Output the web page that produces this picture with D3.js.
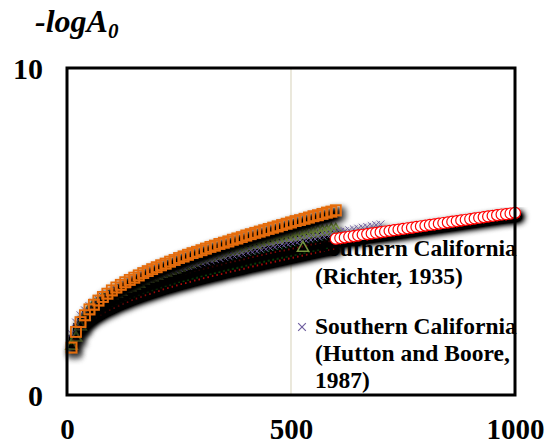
<!DOCTYPE html>
<html><head><meta charset="utf-8">
<script src="https://cdn.jsdelivr.net/npm/d3@7"></script>
<style>body{margin:0;background:#fff;}svg{display:block;}</style>
</head><body><div id="chart"></div>
<script>
// distances (km) at 10 km steps
const dist600 = d3.range(10, 601, 10);
const dist700 = d3.range(10, 701, 10);
const distRed = d3.range(600, 1001, 10);

const orangeVals = [1.45,1.93,2.23,2.44,2.62,2.76,2.89,3.00,3.10,3.20,3.29,3.37,3.45,3.52,3.59,3.66,3.73,3.79,3.85,3.91,3.97,4.02,4.08,4.13,4.19,4.24,4.29,4.34,4.38,4.43,4.48,4.53,4.57,4.62,4.66,4.70,4.75,4.79,4.83,4.88,4.92,4.96,5.00,5.04,5.08,5.12,5.16,5.20,5.24,5.28,5.32,5.35,5.39,5.43,5.47,5.50,5.54,5.58,5.61,5.65];
const richterVals = [1.5,1.75,2.1,2.4,2.6,2.75,2.85,2.95,3.0,3.05,3.1,3.15,3.25,3.3,3.35,3.4,3.5,3.55,3.6,3.65,3.7,3.75,3.8,3.85,3.9,3.95,4.0,4.05,4.1,4.15,4.2,4.2,4.25,4.3,4.35,4.4,4.4,4.45,4.5,4.55,4.6,4.6,4.65,4.7,4.7,4.75,4.75,4.8,4.8,4.85,4.85,4.9,4.9,4.95,4.95,5.0,5.0,5.0,5.05,5.05];
const huttonVals = [1.87,2.22,2.44,2.59,2.72,2.83,2.92,3.00,3.08,3.15,3.22,3.28,3.33,3.39,3.44,3.49,3.54,3.58,3.63,3.67,3.72,3.76,3.80,3.84,3.88,3.91,3.95,3.99,4.02,4.06,4.09,4.13,4.16,4.19,4.23,4.26,4.29,4.32,4.35,4.39,4.42,4.45,4.48,4.51,4.54,4.57,4.60,4.62,4.65,4.68,4.71,4.74,4.77,4.80,4.82,4.85,4.88,4.90,4.93,4.96,4.99,5.01,5.04,5.07,5.09,5.12,5.14,5.17,5.20,5.22];
const upperVals = [1.72,2.07,2.29,2.44,2.57,2.68,2.77,2.85,2.93,3.00,3.07,3.13,3.18,3.24,3.29,3.34,3.39,3.43,3.48,3.52,3.57,3.61,3.65,3.69,3.73,3.76,3.80,3.84,3.87,3.91,3.94,3.98,4.01,4.04,4.08,4.11,4.14,4.17,4.20,4.24,4.27,4.30,4.33,4.36,4.39,4.42,4.45,4.47,4.50,4.53,4.56,4.59,4.62,4.65,4.67,4.70,4.73,4.75,4.78,4.81];
const lowerVals = [1.55,1.85,2.05,2.2,2.32,2.42,2.5,2.58,2.65,2.71,2.78,2.84,2.89,2.95,3.0,3.05,3.1,3.14,3.19,3.23,3.28,3.32,3.36,3.4,3.44,3.47,3.51,3.55,3.58,3.62,3.65,3.69,3.72,3.75,3.79,3.82,3.85,3.88,3.91,3.95,3.98,4.01,4.04,4.07,4.1,4.13,4.16,4.19,4.22,4.25,4.28,4.31,4.34,4.37,4.4,4.43,4.46,4.48,4.51,4.54];
const redVals = [4.78,4.80,4.82,4.84,4.86,4.88,4.90,4.92,4.94,4.96,4.98,5.00,5.02,5.04,5.06,5.08,5.10,5.12,5.14,5.16,5.18,5.20,5.22,5.24,5.26,5.28,5.30,5.32,5.34,5.36,5.38,5.40,5.42,5.44,5.46,5.48,5.50,5.52,5.53,5.55,5.57];

const xTicks = [0, 500, 1000];
const yTicks = [0, 10];
const legendRichter = ["Southern California", "(Richter, 1935)"];
const legendHutton = ["Southern California", "(Hutton and Boore,", "1987)"];

const W = 549, H = 446;
const FONT = "'Liberation Serif','Times New Roman',serif";
const svg = d3.select("#chart").append("svg").attr("width", W).attr("height", H);
const x = d3.scaleLinear().domain([0, 1000]).range([67, 515]);
const y = d3.scaleLinear().domain([0, 10]).range([395, 68]);

const defs = svg.append("defs");
const f = defs.append("filter").attr("id", "sh").attr("x", "-10%").attr("y", "-10%").attr("width", "130%").attr("height", "140%");
f.append("feGaussianBlur").attr("in", "SourceAlpha").attr("stdDeviation", 3);
f.append("feOffset").attr("dx", 3).attr("dy", 4).attr("result", "o");
f.append("feComponentTransfer").append("feFuncA").attr("type", "linear").attr("slope", 1.6);
const m = f.append("feMerge");
m.append("feMergeNode");
m.append("feMergeNode").attr("in", "SourceGraphic");

// gridline at 500
svg.append("line").attr("x1", x(500)).attr("x2", x(500)).attr("y1", y(10)).attr("y2", y(0))
  .attr("stroke", "#DDD9C4").attr("stroke-width", 1.2);

function pts(ds, vs) { return ds.map((d, i) => ({d: d, v: vs[i]})); }

const tri = d3.symbol().type(d3.symbolTriangle).size(55);
const cross = d3.symbol().type(d3.symbolX).size(40);

// black bands
function band(vals) {
  const g = svg.append("g").attr("filter", "url(#sh)");
  const p = pts(dist600, vals);
  g.selectAll("rect.b").data(p).join("rect").attr("x", d => x(d.d) - 3).attr("y", d => y(d.v) - 4).attr("width", 6).attr("height", 8).attr("fill", "#000");
  g.selectAll("rect.g").data(p).join("rect").attr("class","g").attr("x", d => x(d.d) - 1).attr("y", d => y(d.v) - 2).attr("width", 2).attr("height", 2.5).attr("fill", "#22EE22");
  g.selectAll("rect.r").data(p).join("rect").attr("class","r").attr("x", d => x(d.d) + 1.5).attr("y", d => y(d.v) + 0.5).attr("width", 1.5).attr("height", 2).attr("fill", "#FF1010");
}
band(lowerVals);
band(upperVals);

// olive triangles (Richter)
svg.append("g").attr("filter", "url(#sh)").selectAll("path").data(pts(dist600, richterVals)).join("path")
  .attr("d", tri).attr("transform", d => `translate(${x(d.d)},${y(d.v)})`)
  .attr("fill", "none").attr("stroke", "#77933C").attr("stroke-width", 1.6);

// purple crosses (Hutton & Boore)
svg.append("g").attr("filter", "url(#sh)").selectAll("path").data(pts(dist700, huttonVals)).join("path")
  .attr("d", cross).attr("transform", d => `translate(${x(d.d)},${y(d.v)})`)
  .attr("fill", "none").attr("stroke", "#7060A0").attr("stroke-width", 1);

// red circles
svg.append("g").attr("filter", "url(#sh)").selectAll("circle").data(pts(distRed, redVals)).join("circle")
  .attr("cx", d => x(d.d)).attr("cy", d => y(d.v)).attr("r", 5.5)
  .attr("fill", "#fff").attr("stroke", "#FF0000").attr("stroke-width", 1.2);

// orange squares
svg.append("g").attr("filter", "url(#sh)").selectAll("rect").data(pts(dist600, orangeVals)).join("rect")
  .attr("x", d => x(d.d) - 5).attr("y", d => y(d.v) - 5).attr("width", 10).attr("height", 10)
  .attr("fill", "none").attr("stroke", "#E46C0A").attr("stroke-width", 1.8);

// legend
const lg = svg.append("g").attr("font-family", FONT).attr("font-weight", "bold").attr("font-size", 23.5).attr("fill", "#000");
lg.append("path").attr("d", tri).attr("transform", `translate(303,248)`).attr("fill", "none").attr("stroke", "#77933C").attr("stroke-width", 1.5);
legendRichter.forEach((t, i) => lg.append("text").attr("x", 315).attr("y", 256 + i * 28).text(t));
lg.append("path").attr("d", cross).attr("transform", `translate(302,327)`).attr("fill", "none").attr("stroke", "#7060A0").attr("stroke-width", 1.2);
legendHutton.forEach((t, i) => lg.append("text").attr("x", 315).attr("y", 334 + i * 27).text(t));

// frame
svg.append("rect").attr("x", x(0)).attr("y", y(10)).attr("width", x(1000) - x(0)).attr("height", y(0) - y(10))
  .attr("fill", "none").attr("stroke", "#000").attr("stroke-width", 3);

// axes
const xa = svg.append("g").attr("transform", `translate(0,439)`)
  .call(d3.axisBottom(x).tickValues(xTicks).tickSize(0).tickFormat(d3.format("d")));
xa.select(".domain").remove();
xa.selectAll("text").attr("y", 0).attr("dy", 0).attr("font-family", FONT).attr("font-weight", "bold").attr("font-size", 29).attr("fill", "#000");

const ya = svg.append("g").attr("transform", `translate(43,0)`)
  .call(d3.axisLeft(y).tickValues(yTicks).tickSize(0).tickFormat(d3.format("d")));
ya.select(".domain").remove();
ya.selectAll("text").attr("x", 0).attr("dy", "0.34em").attr("font-family", FONT).attr("font-weight", "bold").attr("font-size", 30).attr("fill", "#000");

// y title
const tt = svg.append("text").attr("x", 35).attr("y", 32).attr("font-family", FONT)
  .attr("font-weight", "bold").attr("font-style", "italic").attr("font-size", 32).attr("fill", "#000");
tt.append("tspan").text("-logA");
tt.append("tspan").attr("font-size", 21).attr("dy", 6).text("0");
</script></body></html>
